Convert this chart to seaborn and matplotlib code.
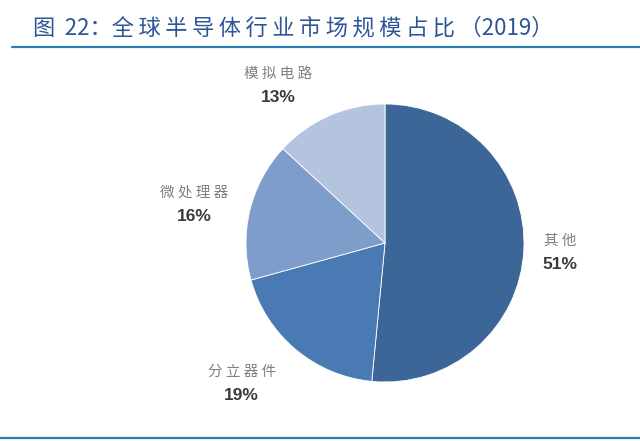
import matplotlib
matplotlib.use("Agg")
import matplotlib.pyplot as plt
import seaborn as sns
import numpy as np

sns.set_theme(style="white")
plt.rcParams['font.family'] = ['Noto Sans CJK SC', 'DejaVu Sans']

# data ########################################################################
names = ['其他', '分立器件', '微处理器', '模拟电路']
shares = [51, 19, 16, 13]
colors = ['#3D6698', '#4A7AB4', '#7F9DCB', '#B4C4DF']
title_head = '图 \u200922：'
title_body = '全球半导体行业市场规模占比'
title_tail = '（2019）'

# label nudges (layout only, in radius units) ##################################
nudge = [(-0.11, 0.0), (-0.15, 0.04), (-0.04, -0.04), (-0.22, -0.12)]

# figure ######################################################################
fig = plt.figure(figsize=(6.4, 4.41), dpi=100)
W, H = 640, 441
cx, cy, r = 385, 243, 139
ax = fig.add_axes([(cx - r) / W, (H - cy - r) / H, 2 * r / W, 2 * r / H])

wedges, texts = ax.pie(shares, labels=names, colors=colors, startangle=90,
                       counterclock=False, labeldistance=1.37,
                       wedgeprops={'linewidth': 0.6, 'edgecolor': 'white'})
ax.set_xlim(-1, 1)
ax.set_ylim(-1, 1)
ax.set_aspect('equal')

for t, s, (nx, ny) in zip(texts, shares, nudge):
    x, y = t.get_position()
    x, y = x + nx, y + ny
    t.set_position((x, y + 0.03))
    t.set_text(' '.join(t.get_text()))
    t.set_ha('center')
    t.set_va('bottom')
    t.set_color('#808080')
    t.set_fontsize(10.5)
    ax.text(x, y - 0.035, f'{s}%', ha='center', va='top', fontsize=12.5,
            fontweight='bold', color='#3a3a3a', family=['Liberation Sans'])

# title and rules ##############################################################
title = title_head + '\u2009'.join(title_body) + '\u2009' + title_tail
fig.text(33 / W, 1 - 28 / H, title, ha='left', va='center', fontsize=16,
         color='#2E5597')
fig.add_artist(plt.Line2D([12 / W, 1], [1 - 47 / H, 1 - 47 / H],
                          color='#2B7CB0', linewidth=1.6))
fig.add_artist(plt.Line2D([0, 1], [1 - 438 / H, 1 - 438 / H],
                          color='#2B7CB0', linewidth=1.6))

fig.savefig('out.png', dpi=100)
